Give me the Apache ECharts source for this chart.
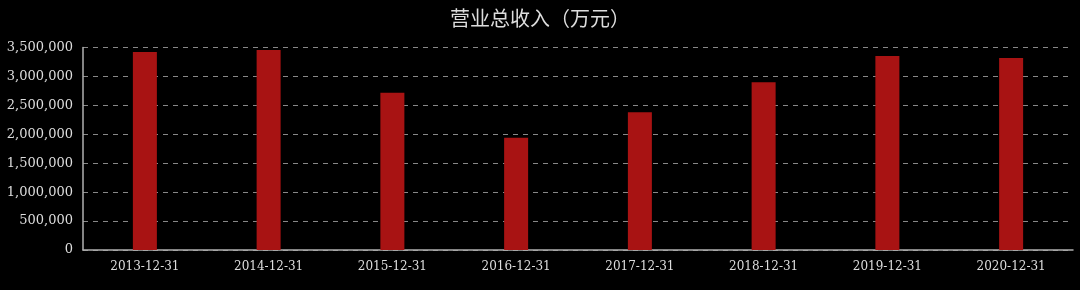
<!DOCTYPE html>
<html>
<head>
<meta charset="utf-8">
<script src="https://cdn.jsdelivr.net/npm/echarts@6/dist/echarts.min.js"></script>
<style>
html,body{margin:0;padding:0;background:#000;}
#c{width:1080px;height:290px;}
</style>
</head>
<body>
<div id="c"></div>
<script>
var titleText = '营业总收入（万元）';
var categories = ['2013-12-31','2014-12-31','2015-12-31','2016-12-31','2017-12-31','2018-12-31','2019-12-31','2020-12-31'];
var revenue = [3422000, 3457000, 2719000, 1941000, 2380000, 2898000, 3353000, 3319000];

var chart = echarts.init(document.getElementById('c'), null, {renderer:'canvas'});
chart.setOption({
  backgroundColor: '#000',
  animation: false,
  title: {
    text: titleText,
    left: 'center',
    top: 3,
    textStyle: {color:'#dddddd', fontSize:20, fontWeight:'normal', fontFamily:'Noto Sans CJK SC'}
  },
  grid: {left:83, right:7, top:47.5, bottom:40, containLabel:false},
  xAxis: {
    type:'category',
    data: categories,
    axisLine:{show:true, lineStyle:{color:'#b0b0b0', width:1.5}},
    axisTick:{show:false},
    axisLabel:{color:'#dddddd', fontSize:12, fontFamily:'DejaVu Serif', margin:11},
    splitLine:{show:false}
  },
  yAxis: {
    type:'value',
    min:0, max:3500000, interval:500000,
    axisLine:{show:true, lineStyle:{color:'#b0b0b0', width:1.5}},
    axisTick:{show:false},
    axisLabel:{color:'#dddddd', fontSize:13, fontFamily:'DejaVu Serif', margin:10,
      formatter:function(v){return v.toLocaleString('en-US');}},
    splitLine:{show:true, lineStyle:{color:'#888888', type:[5,5], width:1}}
  },
  series: [{
    type:'bar',
    data: revenue,
    barWidth: 24,
    itemStyle:{color:'#a81313'}
  }]
});
</script>
</body>
</html>
